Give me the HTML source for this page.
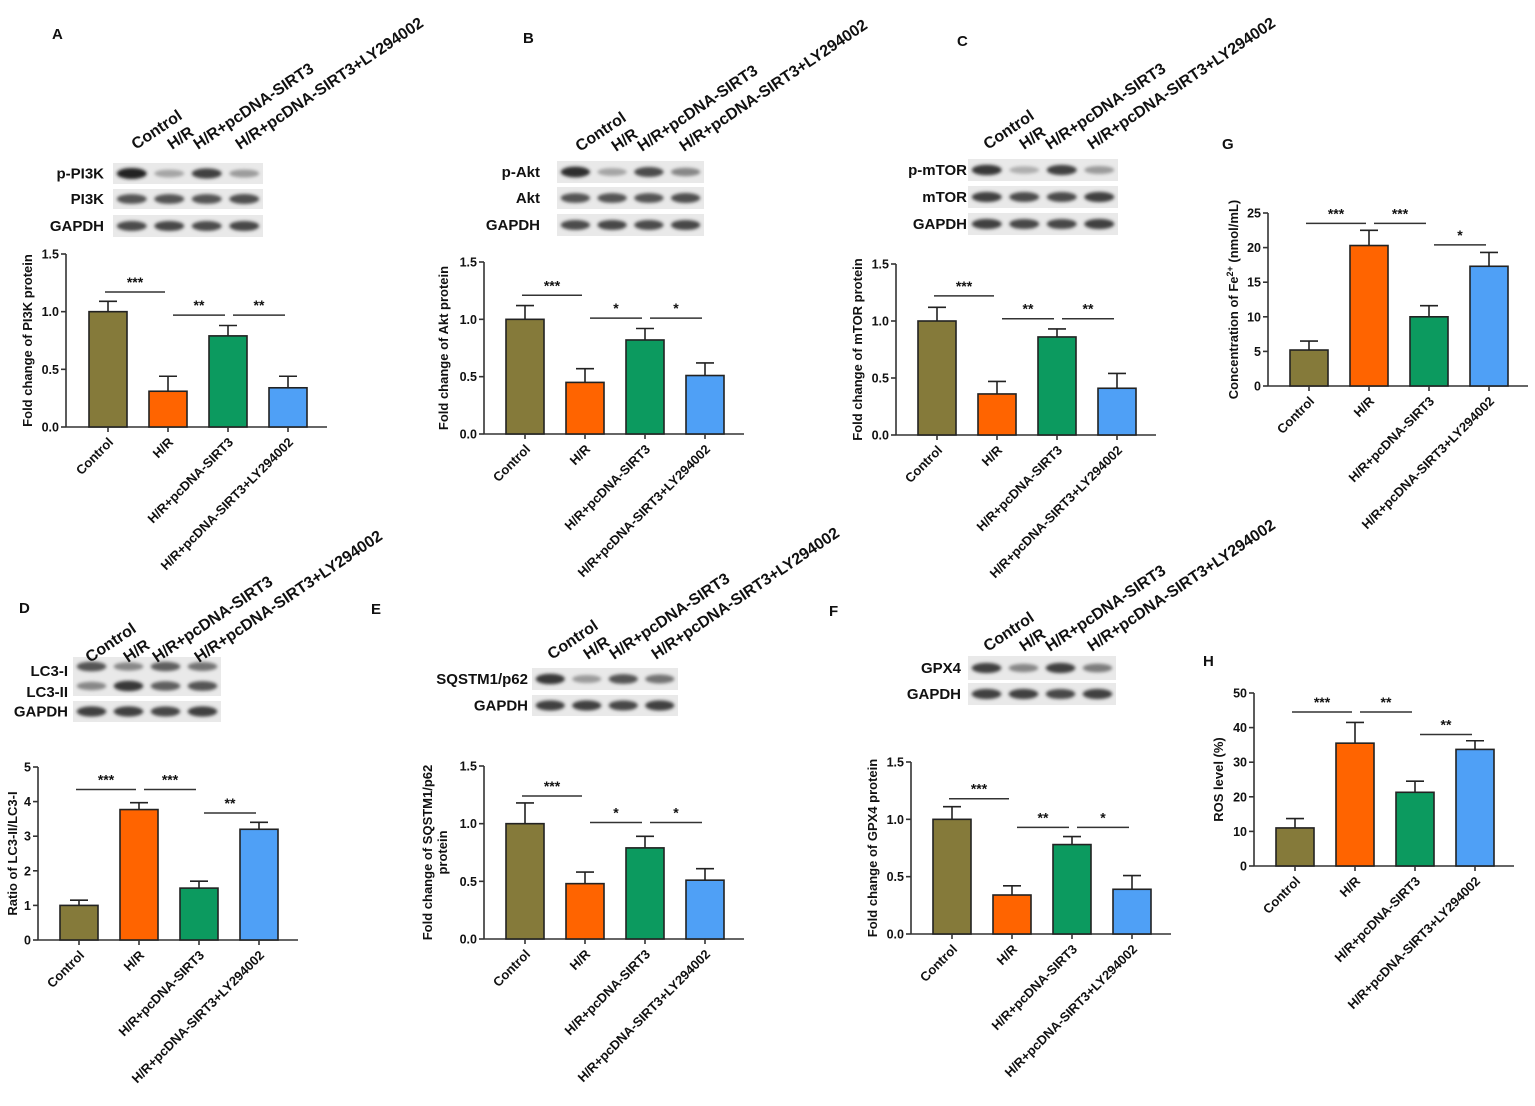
<!DOCTYPE html>
<html><head><meta charset="utf-8"><style>
html,body{margin:0;padding:0;background:#fff}
svg{display:block}
text{font-family:"Liberation Sans",Arial,sans-serif;font-weight:bold;fill:#111}
</style></head><body>
<svg id="fig" width="1535" height="1106" viewBox="0 0 1535 1106" xmlns="http://www.w3.org/2000/svg">
<defs><filter id="blur" x="-20%" y="-50%" width="140%" height="200%"><feGaussianBlur stdDeviation="1.6"/></filter></defs>
</svg>
<script>
const groups = ["Control","H/R","H/R+pcDNA-SIRT3","H/R+pcDNA-SIRT3+LY294002"];
const colors = ["#857a3a","#ff6400","#0c9a5f","#4fa0f6"];
// values per panel
const valsA = [1.0,0.31,0.79,0.34];   const errA = [0.09,0.13,0.09,0.10];
const valsB = [1.0,0.45,0.82,0.51];   const errB = [0.12,0.12,0.10,0.11];
const valsC = [1.0,0.36,0.86,0.41];   const errC = [0.12,0.11,0.07,0.13];
const valsG = [5.2,20.3,10.0,17.3];   const errG = [1.3,2.2,1.6,2.0];
const valsD = [1.0,3.77,1.5,3.2];     const errD = [0.15,0.2,0.2,0.2];
const valsE = [1.0,0.48,0.79,0.51];   const errE = [0.18,0.10,0.10,0.10];
const valsF = [1.0,0.34,0.78,0.39];   const errF = [0.11,0.08,0.07,0.12];
const valsH = [11.0,35.5,21.3,33.7];  const errH = [2.7,6.0,3.2,2.5];
const ticks15 = [0,0.5,1.0,1.5];
const tickLab15 = ["0.0","0.5","1.0","1.5"];
const ticks25 = [0,5,10,15,20,25];
const ticks5 = [0,1,2,3,4,5];
const ticks50 = [0,10,20,30,40,50];

const NS="http://www.w3.org/2000/svg";
const svg=document.getElementById('fig');
function mk(tag,attrs,parent){const e=document.createElementNS(NS,tag);for(const k in attrs)e.setAttribute(k,attrs[k]);(parent||svg).appendChild(e);return e;}
function txt(s,attrs,parent){const e=mk('text',attrs,parent);e.textContent=s;return e;}

const panels=[
 {id:'a',letter:'A',lx:52,ly:39,ax:66,y0:427,ytop:254,max:1.5,ticks:ticks15,tl:tickLab15,cx0:108,vals:valsA,err:errA,
  ylab:["Fold change of PI3K protein"],ylx:32,
  sig:[["***",0,1,1.17],["**",1,2,0.97],["**",2,3,0.97]],
  blot:{x:113,w:150,rows:[["p-PI3K",163,21,[1,0.35,0.85,0.4]],["PI3K",189,20,[0.75,0.75,0.75,0.78]],["GAPDH",215,22,[0.8,0.82,0.8,0.82]]],lab:104},
  top:{x:[136,172,198,240],y:150}},
 {id:'b',letter:'B',lx:523,ly:43,ax:484,y0:434,ytop:262,max:1.5,ticks:ticks15,tl:tickLab15,cx0:525,vals:valsB,err:errB,
  ylab:["Fold change of Akt protein"],ylx:448,
  sig:[["***",0,1,1.21],["*",1,2,1.01],["*",2,3,1.01]],
  blot:{x:557,w:147,rows:[["p-Akt",161,22,[0.95,0.35,0.8,0.5]],["Akt",187,22,[0.75,0.75,0.75,0.78]],["GAPDH",214,22,[0.8,0.82,0.8,0.82]]],lab:540},
  top:{x:[580,616,642,684],y:152}},
 {id:'c',letter:'C',lx:957,ly:46,ax:896,y0:435,ytop:264,max:1.5,ticks:ticks15,tl:tickLab15,cx0:937,vals:valsC,err:errC,
  ylab:["Fold change of mTOR protein"],ylx:862,
  sig:[["***",0,1,1.22],["**",1,2,1.02],["**",2,3,1.02]],
  blot:{x:968,w:150,rows:[["p-mTOR",159,22,[0.9,0.3,0.85,0.4]],["mTOR",186,22,[0.85,0.8,0.8,0.85]],["GAPDH",213,22,[0.85,0.82,0.82,0.85]]],lab:967},
  top:{x:[988,1024,1050,1092],y:150}},
 {id:'g',letter:'G',lx:1222,ly:149,ax:1268,y0:386,ytop:213,max:25,ticks:ticks25,tl:ticks25.map(String),cx0:1309,vals:valsG,err:errG,
  ylab:["Concentration of Fe2+ (nmol/mL)"],ylx:1238,
  sig:[["***",0,1,23.5],["***",1,2,23.5],["*",2,3,20.4]]},
 {id:'d',letter:'D',lx:19,ly:613,ax:38,y0:940,ytop:767,max:5,ticks:ticks5,tl:ticks5.map(String),cx0:79,vals:valsD,err:errD,
  ylab:["Ratio of LC3-II/LC3-I"],ylx:17,
  sig:[["***",0,1,4.35],["***",1,2,4.35],["**",2,3,3.67]],
  blot:{x:73,w:148,rows:[["",657,19,[0.75,0.5,0.7,0.6]],["",676,20,[0.5,0.9,0.7,0.75]],["GAPDH",701,21,[0.85,0.85,0.82,0.85]]],lab:68,extra:[["LC3-I",676],["LC3-II",697]]},
  top:{x:[90,128,157,199],y:663}},
 {id:'e',letter:'E',lx:371,ly:614,ax:484,y0:939,ytop:766,max:1.5,ticks:ticks15,tl:tickLab15,cx0:525,vals:valsE,err:errE,
  ylab:["Fold change of SQSTM1/p62","protein"],ylx:432,
  sig:[["***",0,1,1.24],["*",1,2,1.01],["*",2,3,1.01]],
  blot:{x:532,w:146,rows:[["SQSTM1/p62",668,22,[0.9,0.4,0.75,0.6]],["GAPDH",695,21,[0.85,0.85,0.82,0.85]]],lab:528},
  top:{x:[552,588,614,656],y:660}},
 {id:'f',letter:'F',lx:829,ly:616,ax:911,y0:934,ytop:762,max:1.5,ticks:ticks15,tl:tickLab15,cx0:952,vals:valsF,err:errF,
  ylab:["Fold change of GPX4 protein"],ylx:877,
  sig:[["***",0,1,1.18],["**",1,2,0.93],["*",2,3,0.93]],
  blot:{x:968,w:148,rows:[["GPX4",656,24,[0.85,0.5,0.85,0.55]],["GAPDH",683,22,[0.85,0.85,0.82,0.85]]],lab:961},
  top:{x:[988,1024,1050,1092],y:652}},
 {id:'h',letter:'H',lx:1203,ly:666,ax:1254,y0:866,ytop:693,max:50,ticks:ticks50,tl:ticks50.map(String),cx0:1295,vals:valsH,err:errH,
  ylab:["ROS level (%)"],ylx:1223,
  sig:[["***",0,1,44.5],["**",1,2,44.5],["**",2,3,38]]}
];

panels.forEach(p=>{
  const g=mk('g',{});
  
  
  const L=txt(p.letter,{x:p.lx,y:p.ly,'font-size':15},g);
  
  
  const sy=v=>p.y0-(v/p.max)*(p.y0-p.ytop);
  const bx=i=>p.cx0+i*60;
  const bw=38;
  if(p.blot){
    const bg=mk('g',{},g);
    
    
    p.blot.rows.forEach(r=>{
      mk('rect',{x:p.blot.x,y:r[1],width:p.blot.w,height:r[2],fill:'#e9e9e9'},bg);
      const lw=p.blot.w/4;
      r[3].forEach((d,i)=>{
        const c=Math.round(235-200*d);
        mk('ellipse',{cx:p.blot.x+lw*(i+0.5),cy:r[1]+r[2]/2,rx:lw*0.4,ry:3+2.5*d,fill:`rgb(${c},${c},${c})`,filter:'url(#blur)'},bg);
      });
      if(r[0]) txt(r[0],{x:p.blot.lab,y:r[1]+r[2]/2+5,'font-size':15,'text-anchor':'end'},bg);
    });
    (p.blot.extra||[]).forEach(e=>txt(e[0],{x:p.blot.lab,y:e[1],'font-size':15,'text-anchor':'end'},bg));
    groups.forEach((s,i)=>{
      const t=txt(s,{x:p.top.x[i],y:p.top.y,'font-size':16,transform:`rotate(-34 ${p.top.x[i]} ${p.top.y})`},g);
      
      
    });
  }
  const axg=mk('g',{stroke:'#333','stroke-width':1.6},g);
  
  
  mk('line',{x1:p.ax,y1:p.y0,x2:p.ax,y2:p.ytop},axg);
  mk('line',{x1:p.ax,y1:p.y0,x2:bx(3)+bw/2+20,y2:p.y0},axg);
  p.ticks.forEach((t,i)=>{
    mk('line',{x1:p.ax-5,y1:sy(t),x2:p.ax,y2:sy(t)},axg);
    const tt=txt(p.tl[i],{x:p.ax-7,y:sy(t)+4.5,'font-size':12.5,'text-anchor':'end',stroke:'none'},g);
    
    
  });
  const yc=(p.y0+p.ytop)/2;
  p.ylab.forEach((s,k)=>{
    const t=mk('text',{x:p.ylx+k*15,y:yc,'font-size':13,'text-anchor':'middle',transform:`rotate(-90 ${p.ylx+k*15} ${yc})`},g);
    if(s.indexOf('Fe2+')>=0){t.innerHTML='Concentration of Fe<tspan dy="-5" font-size="9">2+</tspan><tspan dy="5"> (nmol/mL)</tspan>';}
    else t.textContent=s;
    
    
  });
  p.vals.forEach((v,i)=>{
    const x=bx(i);
    const top=sy(v), et=sy(v+p.err[i]);
    const eb=mk('g',{stroke:'#222','stroke-width':1.6},g);
    
    
    mk('line',{x1:x,y1:top,x2:x,y2:et},eb);
    mk('line',{x1:x-9,y1:et,x2:x+9,y2:et},eb);
    const r=mk('rect',{x:x-bw/2,y:top,width:bw,height:p.y0-top,fill:colors[i],stroke:'#222','stroke-width':1.6},g);
    
    
    mk('line',{x1:x,y1:p.y0,x2:x,y2:p.y0+5,stroke:'#333','stroke-width':1.6},g);
    const lx=x+6, ly=p.y0+16;
    const t=txt(groups[i],{x:lx,y:ly,'font-size':13,'text-anchor':'end',transform:`rotate(-45 ${lx} ${ly})`},g);
    
    
  });
  p.sig.forEach(s=>{
    const y=sy(s[3]);
    const x1=bx(s[1])-3+(s[1]>0?8:0), x2=bx(s[2])-3;
    const sg=mk('g',{},g);
    
    
    mk('line',{x1:x1,y1:y,x2:x2,y2:y,stroke:'#333','stroke-width':1.5},sg);
    txt(s[0],{x:(x1+x2)/2,y:y-5,'font-size':14,'text-anchor':'middle',fill:'#666'},sg);
  });
});
</script>
</body></html>
